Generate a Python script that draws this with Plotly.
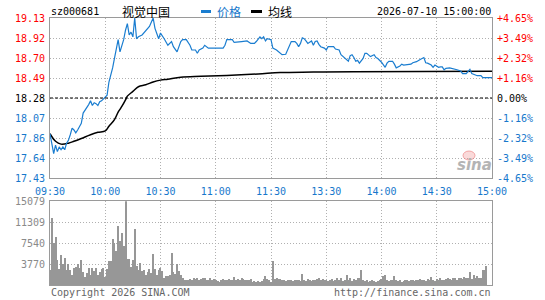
import plotly.graph_objects as go
import numpy as np

# ---------------- data ----------------
stock_code = "sz000681"
stock_name = "视觉中国"
timestamp = "2026-07-10 15:00:00"
prev_close = 18.28

# trading-minute offsets since 09:30 (0..120 morning, 120..240 afternoon)
price_min = [0, 1, 2, 3, 4, 5, 6, 7, 8, 9, 10, 11, 12, 13, 14, 15, 16, 17, 18, 19,
             20, 21, 22, 23, 24, 25, 26, 27, 28, 29, 30, 31, 32, 33, 34, 35, 36, 37, 38, 39,
             40, 41, 42, 43, 44, 45, 46, 47, 48, 50, 52, 54, 56, 57, 59, 60, 62, 63, 64, 66,
             67, 69, 71, 72, 74, 76, 77, 79, 80, 81, 83, 84, 86, 89, 94, 95, 96, 99, 100, 104,
             107, 109, 111, 112, 114, 115, 116, 117, 118, 120, 121, 123, 125, 126, 128, 129, 130, 131, 133, 134,
             135, 136, 137, 138, 139, 140, 142, 143, 144, 145, 146, 147, 149, 150, 151, 154, 155, 157, 158, 159,
             160, 162, 163, 164, 165, 166, 167, 168, 170, 171, 172, 174, 176, 177, 178, 180, 182, 183, 184, 186,
             187, 188, 190, 191, 192, 196, 197, 199, 201, 203, 204, 205, 207, 208, 209, 211, 212, 213, 214, 215,
             217, 220, 221, 223, 224, 226, 228, 229, 230, 232, 234, 235, 240]
price_val = [17.90, 17.78, 17.69, 17.78, 17.71, 17.76, 17.73, 17.76, 17.73, 17.80,
             17.83, 17.89, 17.96, 17.94, 17.91, 17.94, 17.975, 18.01, 18.12, 18.15,
             18.17, 18.21, 18.25, 18.20, 18.23, 18.22, 18.20, 18.24, 18.25, 18.27,
             18.28, 18.31, 18.45, 18.52, 18.60, 18.70, 18.80, 18.90, 18.77, 18.84,
             18.90, 19.00, 19.07, 18.95, 18.98, 18.93, 19.13, 18.91, 18.93, 18.95,
             19.00, 19.04, 19.13, 19.02, 18.91, 18.97, 18.91, 18.88, 18.84, 18.88,
             18.825, 18.77, 18.88, 18.90, 18.90, 18.84, 18.79, 18.79, 18.755, 18.79,
             18.81, 18.84, 18.81, 18.81, 18.81, 18.84, 18.90, 18.90, 18.87, 18.88,
             18.886, 18.86, 18.86, 18.88, 18.93, 18.91, 18.93, 18.886, 18.91, 18.90,
             18.81, 18.79, 18.755, 18.74, 18.745, 18.79, 18.825, 18.88, 18.88, 18.86,
             18.825, 18.86, 18.92, 18.91, 18.886, 18.86, 18.886, 18.84, 18.88, 18.886,
             18.85, 18.825, 18.81, 18.79, 18.825, 18.825, 18.80, 18.79, 18.74, 18.72,
             18.70, 18.67, 18.73, 18.74, 18.71, 18.67, 18.68, 18.65, 18.70, 18.755,
             18.755, 18.72, 18.74, 18.71, 18.70, 18.66, 18.606, 18.65, 18.67, 18.67,
             18.64, 18.60, 18.62, 18.64, 18.63, 18.64, 18.655, 18.666, 18.69, 18.71,
             18.655, 18.65, 18.63, 18.606, 18.63, 18.606, 18.61, 18.61, 18.58, 18.595,
             18.60, 18.588, 18.58, 18.567, 18.54, 18.54, 18.585, 18.54, 18.53, 18.517,
             18.517, 18.496, 18.496]

avg_min = [0, 3, 6, 10, 13, 17, 22, 26, 30, 32, 35, 37, 38, 39, 41, 42, 45, 48, 52, 56,
           60, 64, 71, 82, 96, 113, 125, 143, 165, 240]
avg_val = [17.90, 17.82, 17.79, 17.80, 17.82, 17.85, 17.89, 17.915, 17.93, 17.98,
           18.05, 18.13, 18.16, 18.19, 18.26, 18.30, 18.35, 18.40, 18.42, 18.45,
           18.47, 18.48, 18.50, 18.51, 18.52, 18.535, 18.55, 18.555, 18.56, 18.565]

volume = [2750, 12030, 7540, 8620, 4550, 2870, 5450, 3770, 4850, 2750,
          3830, 2750, 1855, 3050, 3230, 3710, 3050, 4550, 2390, 1440,
          2150, 3050, 1855, 3050, 2450, 3050, 1855, 2270, 2930, 3050,
          1440, 2870, 4250, 4370, 8260, 7540, 6040, 10650, 7960, 9335,
          6940, 15079, 4730, 4730, 3230, 4430, 10110, 3350, 2630, 3950,
          2450, 2630, 1855, 2270, 2870, 2150, 5625, 2870, 1855, 2750,
          3050, 2450, 1200, 1555, 1555, 1855, 5745, 2270, 2035, 3830,
          2450, 1855, 1200, 840, 838, 838, 1077, 838, 1197, 1077,
          1197, 838, 1077, 1197, 1316, 957, 838, 1197, 838, 1077,
          957, 718, 598, 957, 1077, 838, 957, 1077, 957, 838,
          1436, 838, 1077, 957, 1197, 1077, 957, 838, 957, 1077,
          598, 718, 598, 650, 598, 718, 1077, 1675, 1077, 838,
          598, 4250, 1077, 1197, 1077, 1077, 838, 957, 718, 838,
          957, 838, 718, 838, 957, 838, 718, 2035, 957, 718,
          1077, 838, 718, 957, 838, 1077, 1197, 957, 1077, 838,
          957, 718, 838, 1077, 718, 838, 1316, 838, 1197, 718,
          957, 1795, 838, 1197, 718, 1077, 838, 1197, 1316, 2750,
          838, 718, 957, 598, 718, 838, 718, 598, 718, 838,
          1077, 1555, 1735, 957, 718, 957, 838, 1555, 838, 718,
          957, 598, 718, 838, 957, 718, 838, 957, 718, 838,
          957, 1077, 838, 957, 718, 1077, 957, 1435, 838, 718,
          1077, 957, 1197, 957, 838, 1077, 1197, 1077, 957, 1197,
          1316, 957, 1197, 1316, 1077, 1436, 1197, 1316, 2270, 1077,
          1855, 1197, 1555, 1197, 1197, 2630, 2630, 3350]

time_ticks = [0, 30, 60, 90, 120, 150, 180, 210, 240]
time_labels = ["09:30", "10:00", "10:30", "11:00", "11:30", "13:30", "14:00", "14:30", "15:00"]
price_labels = ["19.13", "18.92", "18.70", "18.49", "18.28", "18.07", "17.86", "17.64", "17.43"]
pct_labels = ["+4.65%", "+3.49%", "+2.32%", "+1.16%", "0.00%", "-1.16%", "-2.32%", "-3.49%", "-4.65%"]
vol_labels = ["3770", "7540", "11309", "15079"]
vol_max = 15079

# ---------------- style ----------------
W, H = 545, 300
BLUE = "#1a7dd0"
LBLUE = "#1778cc"
RED = "#ff0000"
GRID = "#b0b0b0"
FRAME = "#9a9a9a"
MONO = "DejaVu Sans Mono, Noto Sans CJK SC, monospace"
CJK = "Noto Sans CJK SC, DejaVu Sans, sans-serif"

def px(x):
    return x / W

def py(y):
    return 1 - y / H

hi = float(price_labels[0]); lo = float(price_labels[-1])
ptick = list(np.linspace(hi, lo, len(price_labels)))

def colored(lbls, mid):
    out = []
    for i, t in enumerate(lbls):
        c = RED if i < mid else ("#000000" if i == mid else LBLUE)
        out.append('<span style="color:%s">%s</span>' % (c, t))
    return out

fig = go.Figure()

# volume bars
fig.add_trace(go.Bar(x=list(range(len(volume))), y=volume, width=0.55,
                     marker=dict(color="#979797", line=dict(width=0)),
                     xaxis="x2", yaxis="y2", hoverinfo="skip"))
# previous close dashed line
fig.add_trace(go.Scatter(x=[time_ticks[0], time_ticks[-1]], y=[prev_close, prev_close],
                         mode="lines", line=dict(color="#000000", width=1, dash="3px,2px"),
                         xaxis="x", yaxis="y3", hoverinfo="skip"))
# average line
fig.add_trace(go.Scatter(x=avg_min, y=avg_val, mode="lines", line_shape="spline",
                         line=dict(color="#000000", width=1.5), xaxis="x", yaxis="y"))
# price line
fig.add_trace(go.Scatter(x=price_min, y=price_val, mode="lines",
                         line=dict(color=BLUE, width=1.2), xaxis="x", yaxis="y"))

xdom = [px(50), px(492)]
common_x = dict(range=[time_ticks[0], time_ticks[-1]], tickvals=time_ticks,
                showgrid=True, gridcolor=GRID, griddash="1px,2px", gridwidth=1,
                showline=True, linecolor=FRAME, linewidth=1, mirror=True,
                zeroline=False, fixedrange=True, automargin=False)

fig.update_layout(
    width=W, height=H, margin=dict(l=0, r=0, t=0, b=0, autoexpand=False),
    paper_bgcolor="white", plot_bgcolor="white", showlegend=False,
    bargap=0,
    xaxis=dict(domain=xdom, anchor="y", ticktext=time_labels,
               tickfont=dict(family=MONO, size=10, color=LBLUE),
               ticks="outside", ticklen=4, tickcolor="rgba(0,0,0,0)", **common_x),
    xaxis2=dict(domain=xdom, anchor="y2", showticklabels=False, matches="x", **common_x),
    yaxis=dict(domain=[py(178), py(18)], anchor="x", range=[lo, hi],
               tickvals=ptick, ticktext=colored(price_labels, 4),
               tickfont=dict(family=MONO, size=10),
               ticks="outside", ticklen=2, tickcolor="rgba(0,0,0,0)",
               showgrid=True, gridcolor=GRID, griddash="1px,2px",
               showline=True, linecolor=FRAME, linewidth=1, mirror=True,
               zeroline=False, fixedrange=True, automargin=False),
    yaxis3=dict(overlaying="y", side="right", anchor="x", range=[lo, hi],
                tickvals=ptick, ticktext=colored(pct_labels, 4),
                tickfont=dict(family=MONO, size=10),
                ticks="outside", ticklen=2, tickcolor="rgba(0,0,0,0)",
                showgrid=False, zeroline=False, showline=False, fixedrange=True,
                automargin=False),
    yaxis2=dict(domain=[py(285.3), py(201.3)], anchor="x2", range=[0, vol_max],
                tickvals=list(np.linspace(0, vol_max, 5))[1:], ticktext=vol_labels,
                tickfont=dict(family=MONO, size=10, color="#8a8a8a"),
                ticks="outside", ticklen=2, tickcolor="rgba(0,0,0,0)",
                showgrid=True, gridcolor=GRID, griddash="1px,2px",
                showline=True, linecolor=FRAME, linewidth=1, mirror=True,
                zeroline=False, fixedrange=True, automargin=False),
)

ann = []
def txt(t, x, y, anchor="left", color="#000000", size=10, family=MONO, **kw):
    ann.append(dict(text=t, x=px(x), y=py(y), xref="paper", yref="paper",
                    xanchor=anchor, yanchor="middle", showarrow=False,
                    font=dict(family=family, size=size, color=color), **kw))

txt(stock_code, 49, 11.5)
txt(stock_name, 120, 11.5, size=12, family=CJK)
txt("价格", 215, 11.5, color=LBLUE, size=12, family=CJK)
txt("均线", 266, 11.5, size=12, family=CJK)
txt(timestamp, 493, 11.5, anchor="right")
txt("Copyright 2026 SINA.COM", 49, 292.5, color="#666666")
txt("http://finance.sina.com.cn", 493, 292.5, anchor="right", color="#666666")
txt("<b><i>sina</i></b>", 474, 165, anchor="center", color="#b4b4b4", size=15,
    family="DejaVu Sans, sans-serif")

shapes = [
    dict(type="rect", xref="paper", yref="paper", x0=px(201), x1=px(211), y0=py(13), y1=py(10),
         fillcolor=BLUE, line=dict(width=0)),
    dict(type="rect", xref="paper", yref="paper", x0=px(251), x1=px(262), y0=py(13), y1=py(10),
         fillcolor="#000000", line=dict(width=0)),
    dict(type="circle", xref="paper", yref="paper", x0=px(463), x1=px(475), y0=py(160), y1=py(151),
         fillcolor="rgba(240,150,150,0.35)", line=dict(color="rgba(235,120,120,0.6)", width=1)),
]
fig.update_layout(annotations=ann, shapes=shapes)

fig.write_html("out.html")
